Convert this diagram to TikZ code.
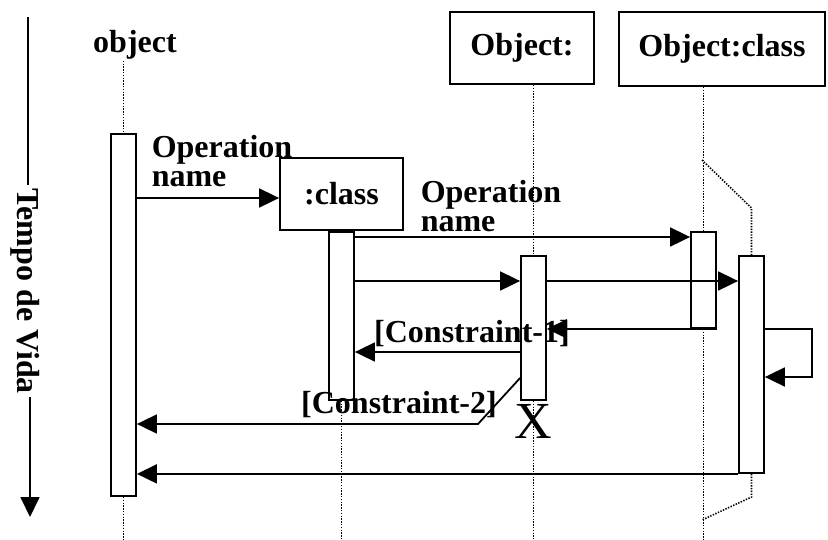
\documentclass[tikz,border=0pt]{standalone}
\usepackage{fontspec}
\setmainfont{Liberation Serif}
\usepackage{tikz}
\usetikzlibrary{arrows.meta, positioning, calc}

\tikzset{
  lbl/.style={font=\fontsize{32}{29}\selectfont\bfseries, inner sep=1pt},
  objbox/.style={lbl, draw, line width=1.8pt, fill=white},
  bar/.style={draw, fill=white, line width=1.8pt, minimum width=25pt, inner sep=0pt},
  life/.style={line width=1.6pt, dash pattern=on 1.4pt off 1.4pt},
  msg/.style={line width=1.8pt, -{Triangle[length=20pt,width=19pt]}},
}

\begin{document}
\begin{tikzpicture}[x=1pt,y=-1pt]
  \path[use as bounding box] (0,0) rectangle (828,539);
  \coordinate (bot) at (0,539);
  % message rows
  \coordinate (r1) at (0,198);
  \coordinate (r2) at (0,237);
  \coordinate (r3) at (0,281);
  \coordinate (r6) at (0,352);
  \coordinate (r7) at (0,378);
  \coordinate (s1) at (0,329);
  \coordinate (s2) at (0,377);

  % time axis
  \node[lbl, rotate=-90, inner sep=3pt] (tempo) at (25,291) {Tempo de Vida};
  \coordinate (ttop) at (28,17);
  \coordinate (tbot) at (30,517);
  \draw[line width=1.8pt] (ttop) -- (ttop |- tempo.west);
  \draw[msg] (tbot |- tempo.east) -- (tbot);

  % objects
  \node[lbl] (objlbl) at (135,45) {object};
  \node[objbox, minimum width=123, minimum height=72] (clsbox) at (341.5,194) {:class};
  \node[objbox, minimum width=144, minimum height=72] (obbox) at (522,48) {Object:};
  \node[objbox, minimum width=206, minimum height=74] (ocbox) at (722,49) {Object:class};

  % lifelines
  \coordinate (split) at (702,160);
  \coordinate (splitb) at (751.5,208);
  \coordinate (joinb) at (751.5,497);
  \coordinate (join) at (702,520);
  \node[bar, minimum height=362] (objbar) at (123.5,315) {};
  \node[bar, minimum height=168, anchor=north] (clsbar) at (clsbox.south) {};
  \node[bar, minimum height=144] (obbar) at (533.5,328) {};
  \node[bar, minimum height=96] (ocbarA) at (703.5,280) {};
  \node[bar, minimum height=217] (ocbarB) at (751.5,364.5) {};
  \draw[life] (objbar.north |- objlbl.south) -- (objbar.north);
  \draw[life] (objbar.south) -- (objbar.south |- bot);
  \draw[life] (clsbar.south) -- (clsbar.south |- bot);
  \draw[life] (obbar.north |- obbox.south) -- (obbar.north);
  \draw[life] (obbar.south) -- (obbar.south |- bot);
  \draw[life] (ocbarA.north |- ocbox.south) -- (ocbarA.north);
  \draw[life] (split) -- (splitb) -- (ocbarB.north);
  \draw[life] (ocbarA.south) -- (ocbarA.south |- bot);
  \draw[life] (ocbarB.south) -- (joinb) -- (join);

  % messages
  \node[lbl, align=left] (op1) at (222,161) {Operation\\name};
  \node[lbl, align=left] (op2) at (491,206) {Operation\\name};
  \draw[msg] (objbar.east |- r1) -- (clsbox.west |- r1);
  \draw[msg] (clsbar.east |- r2) -- (ocbarA.west |- r2);
  \draw[msg] (clsbar.east |- r3) -- (obbar.west |- r3);
  \draw[msg] (obbar.east |- r3) -- (ocbarB.west |- r3);
  \draw[msg] (ocbarA.south east) -- (obbar.east |- ocbarA.south);
  \draw[msg] (obbar.west |- r6) -- (clsbar.east |- r6);
  \coordinate (bend) at (478,424);
  \draw[msg] (obbar.west |- r7) -- (bend) -- (objbar.east |- bend);
  \draw[msg] (ocbarB.south west) -- (objbar.east |- ocbarB.south);
  \draw[msg] (ocbarB.east |- s1) -- (812,329) -- (812,377) -- (ocbarB.east |- s2);

  \node[lbl] (con1) at (472,334) {[Constraint-1]};
  \node[lbl] (con2) at (399,405) {[Constraint-2]};
  \node[font=\fontsize{52}{52}\selectfont, inner sep=0pt] (kill) at (533,421) {X};
\end{tikzpicture}
\end{document}
